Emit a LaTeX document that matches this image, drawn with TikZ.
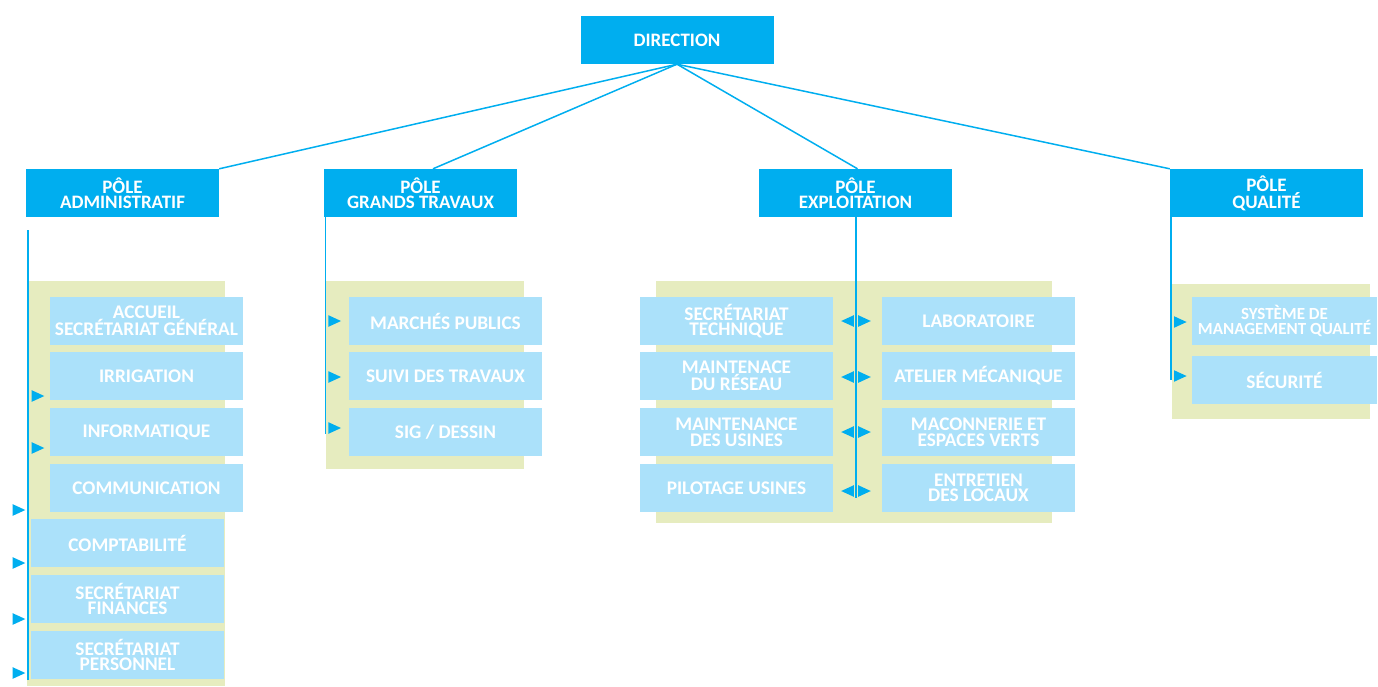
\documentclass[tikz,border=0pt]{standalone}
\usepackage{fontspec}
\setmainfont{Carlito}
\usetikzlibrary{calc}
\definecolor{dark}{HTML}{00AEEF}
\definecolor{light}{HTML}{ABE1FA}
\definecolor{panel}{HTML}{E6ECBF}
\tikzset{
  hdr/.style={fill=dark, text=white, inner sep=0pt, minimum width=193pt, minimum height=48pt, align=center, font=\bfseries\fontsize{19}{15.5}\selectfont},
  item/.style={fill=light, text=white, inner sep=0pt, minimum width=193pt, minimum height=48pt, align=center, font=\bfseries\fontsize{19.3}{15.5}\selectfont},
  smallitem/.style={item, font=\bfseries\fontsize{17}{14}\selectfont},
  panelbox/.style={fill=panel, inner sep=0pt},
  link/.style={draw=dark, line width=1.5pt},
  tri/.style={fill=dark},
}
\begin{document}
\begin{tikzpicture}[x=1pt,y=-1pt]
\useasboundingbox (0,0) rectangle (1378,686);
% panels
\fill[panelbox] (27,281) rectangle (225,686);
\fill[panelbox] (326,281) rectangle (524,469);
\fill[panelbox] (656,281) rectangle (1052,523);
\fill[panelbox] (1172,284) rectangle (1370,419);
% headers
\node[hdr] (dir) at (677,40) {DIRECTION};
\node[hdr] (adm) at (122.5,193) {PÔLE\\ADMINISTRATIF};
\node[hdr] (gt) at (420.5,193) {PÔLE\\GRANDS TRAVAUX};
\node[hdr] (exp) at (855.5,193) {PÔLE\\EXPLOITATION};
\node[hdr] (qual) at (1266.5,193) {PÔLE\\QUALITÉ};
% connectors from direction
\draw[link] (dir.south) -- (adm.north east);
\draw[link] (dir.south) -- ($(gt.north)+(12.5,0)$);
\draw[link] (dir.south) -- ($(exp.north)+(2,0)$);
\draw[link] (dir.south) -- (qual.north west);
% spines
\coordinate (admS) at (28,230);
\coordinate (admE) at (28,680);
\coordinate (gtE) at (325.5,434);
\coordinate (expE) at (856,498);
\coordinate (qualE) at (1171,380);
\draw[link] (admS) -- (admE);
\draw[link] (gt.south west -| gtE) -- (gtE);
\draw[link] (exp.south -| expE) -- (expE);
\draw[link] (qual.south west -| qualE) -- (qualE);
% administratif items
\node[item] (a1) at (146.5,321) {ACCUEIL\\SECRÉTARIAT GÉNÉRAL};
\node[item] (a2) at (146.5,376) {IRRIGATION};
\node[item] (a3) at (146.5,432) {INFORMATIQUE};
\node[item] (a4) at (146.5,488) {COMMUNICATION};
\node[item] (a5) at (127.5,543) {COMPTABILITÉ};
\node[item] (a6) at (127.5,599) {SECRÉTARIAT\\FINANCES};
\node[item] (a7) at (127.5,655) {SECRÉTARIAT\\PERSONNEL};
% grands travaux items
\node[item] (g1) at (445.5,321) {MARCHÉS PUBLICS};
\node[item] (g2) at (445.5,376) {SUIVI DES TRAVAUX};
\node[item] (g3) at (445.5,432) {SIG / DESSIN};
% exploitation items
\node[item] (e1) at (736.5,321) {SECRÉTARIAT\\TECHNIQUE};
\node[item] (e2) at (736.5,376) {MAINTENACE\\DU RÉSEAU};
\node[item] (e3) at (736.5,432) {MAINTENANCE\\DES USINES};
\node[item] (e4) at (736.5,488) {PILOTAGE USINES};
\node[item] (f1) at (978.5,321) {LABORATOIRE};
\node[item] (f2) at (978.5,376) {ATELIER MÉCANIQUE};
\node[item] (f3) at (978.5,432) {MACONNERIE ET\\ESPACES VERTS};
\node[item] (f4) at (978.5,488) {ENTRETIEN\\DES LOCAUX};
% qualite items
\node[smallitem, minimum width=185pt] (q1) at (1284.5,321) {SYSTÈME DE\\MANAGEMENT QUALITÉ};
\node[item, minimum width=185pt] (q2) at (1284.5,380) {SÉCURITÉ};
% right-pointing triangles
\foreach \x/\y in {38/396, 38/448, 19/510, 19/563, 19/619, 19/673,
                   334.7/321, 334.7/377, 334.7/428,
                   864.5/321, 864.5/377, 864.5/432, 864.5/491,
                   1180.3/322, 1180.3/376}
  \fill[tri] ({\x-6.3},{\y-5.8}) -- ({\x+6.3},{\y}) -- ({\x-6.3},{\y+5.8}) -- cycle;
% left-pointing triangles
\foreach \x/\y in {847.5/321, 847.5/377, 847.5/432, 847.5/491}
  \fill[tri] ({\x+6.3},{\y-5.8}) -- ({\x-6.3},{\y}) -- ({\x+6.3},{\y+5.8}) -- cycle;
\end{tikzpicture}
\end{document}
